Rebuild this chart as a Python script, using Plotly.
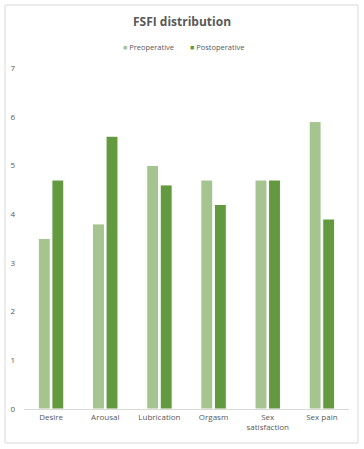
import plotly.graph_objects as go

categories = ["Desire", "Arousal", "Lubrication", "Orgasm", "Sex<br>satisfaction", "Sex pain"]
preoperative = [3.5, 3.8, 5.0, 4.7, 4.7, 5.9]
postoperative = [4.7, 5.6, 4.6, 4.2, 4.7, 3.9]
y_ticks = [0, 1, 2, 3, 4, 5, 6, 7]
series_names = ["Preoperative", "Postoperative"]

PRE_COLOR = "#A5C490"
POST_COLOR = "#63993F"

W, H = 364, 449
L, R, T, B = 24, 15, 68, 40
pw, ph = W - L - R, H - T - B

fig = go.Figure()
fig.add_bar(x=categories, y=preoperative, name=series_names[0], showlegend=False,
            marker=dict(color=PRE_COLOR, line=dict(color="white", width=1)))
fig.add_bar(x=categories, y=postoperative, name=series_names[1], showlegend=False,
            marker=dict(color=POST_COLOR, line=dict(color="white", width=1)))

# legend drawn as text with coloured square swatches
for name, color, px in [(series_names[0], PRE_COLOR, 121), (series_names[1], POST_COLOR, 188)]:
    fig.add_annotation(xref="paper", yref="paper", x=(px - L) / pw, y=(H - B - 47) / ph,
                       xanchor="left", yanchor="middle", showarrow=False,
                       text=f"<span style='color:{color};font-size:7px'>■</span> {name}",
                       font=dict(size=7.5, color="#595959"))

fig.add_shape(type="rect", xref="paper", yref="paper",
              x0=(5 - L) / pw, x1=(358 - L) / pw,
              y0=(H - B - 443) / ph, y1=(H - B - 5) / ph,
              line=dict(color="#D9D9D9", width=1), fillcolor="rgba(0,0,0,0)", layer="below")

fig.update_layout(
    width=W, height=H,
    margin=dict(l=L, r=R, t=T, b=B, autoexpand=False),
    paper_bgcolor="white", plot_bgcolor="white",
    font=dict(family="Open Sans", color="#595959", size=8),
    title=dict(text="<b>FSFI distribution</b>", x=0.5, xanchor="center", y=(H - 22) / H, yanchor="middle",
               font=dict(size=12, color="#595959")),
    barmode="group", bargap=0.5, bargroupgap=0.12,
    showlegend=False,
)
fig.update_xaxes(showgrid=False, showline=True, linecolor="#D9D9D9", linewidth=1, ticks="",
                 automargin=False, tickfont=dict(size=8, color="#595959"))
fig.update_yaxes(range=[0, 7], tickvals=y_ticks, showgrid=False, showline=False, zeroline=False,
                 ticks="", automargin=False, ticklabelstandoff=8, tickfont=dict(size=8, color="#595959"))

fig.write_html("out.html", config={"displayModeBar": False},
               post_script="document.body.style.margin='0';document.body.style.overflow='hidden';")
